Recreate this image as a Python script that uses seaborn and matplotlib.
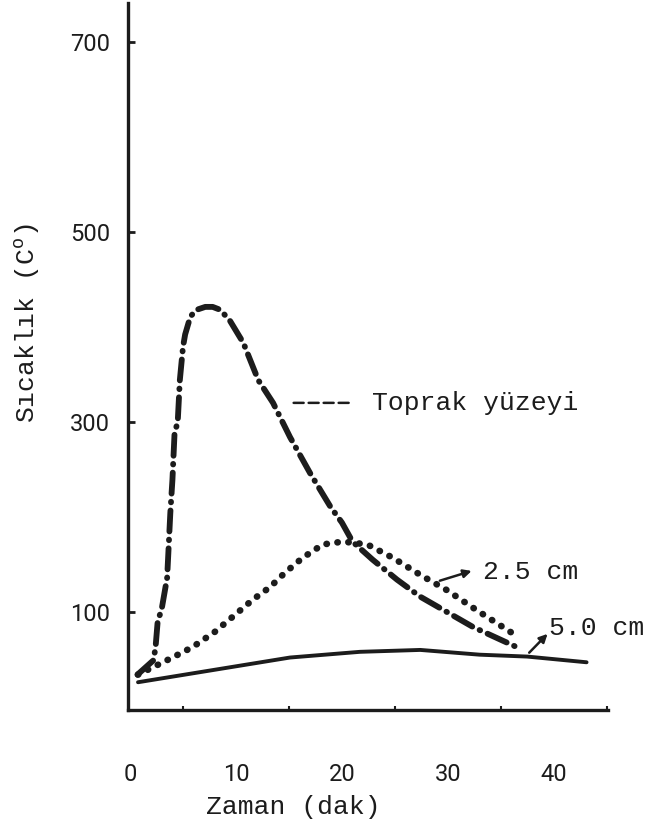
import pandas as pd
import matplotlib
matplotlib.use("Agg")
import matplotlib.pyplot as plt
import seaborn as sns

# Toprak yüzeyi (soil surface)
surface_t = [0.7, 2.2, 2.4, 2.6, 3.0, 3.5, 3.8, 4.0, 4.2, 4.5, 4.7, 5.0, 5.2, 5.7, 6.3, 7.1,
             7.8, 8.5, 9.4, 10.7, 12.1, 13.5, 15.1, 17.0, 18.9, 20.0, 21.0, 22.9, 25.2,
             27.4, 29.9, 32.4, 36.5]
surface_temp = [34, 49, 62, 89, 104, 136, 204, 239, 288, 300, 344, 379, 392, 411, 418, 421,
                421, 418, 407, 383, 344, 320, 284, 246, 211, 194, 174, 155, 134,
                116, 100, 84, 63]

# 2.5 cm depth
d25_t = [0.75, 2.2, 4.0, 5.9, 8.0, 9.7, 11.6, 13.2, 14.6, 16.3, 18.2, 20.1, 22.4, 24.8,
         27.4, 29.9, 32.7, 36.6]
d25_temp = [34, 42, 52, 63, 79, 95, 113, 126, 141, 157, 171, 174, 171, 157,
            139, 123, 102, 74]

# 5.0 cm depth
d50_t = [0.75, 15.1, 21.7, 27.4, 33.0, 37.5, 43.1]
d50_temp = [26, 52, 58, 60, 55, 53, 47]

x_ticks = [0, 10, 20, 30, 40]
y_ticks = [100, 300, 500, 700]

sns.set_theme(style="white")
plt.rcParams["mathtext.fontset"] = "custom"
plt.rcParams["mathtext.rm"] = "Liberation Mono"
plt.rcParams["mathtext.it"] = "Liberation Mono"

ink = "#1c1c1c"
mono = "Liberation Mono"

fig = plt.figure(figsize=(6.5, 8.3), dpi=100)
ax = fig.add_axes([0.197, 0.1446, 0.738, 0.852])

surface = pd.DataFrame({"t": surface_t, "temp": surface_temp})
d25 = pd.DataFrame({"t": d25_t, "temp": d25_temp})
d50 = pd.DataFrame({"t": d50_t, "temp": d50_temp})

sns.lineplot(data=surface, x="t", y="temp", ax=ax, color=ink, linewidth=4.2,
             estimator=None, sort=False, linestyle=(0, (3.6, 1.4, 0.1, 1.4)),
             dash_capstyle="round")
sns.lineplot(data=d25, x="t", y="temp", ax=ax, color=ink, linewidth=4.8,
             estimator=None, sort=False, linestyle=(0, (0.05, 1.6)),
             dash_capstyle="round")
sns.lineplot(data=d50, x="t", y="temp", ax=ax, color=ink, linewidth=2.8,
             estimator=None, sort=False, solid_capstyle="round")

ax.set_xlim(-0.19, 45.1)
ax.set_ylim(-3.2, 741)

for side in ["top", "right"]:
    ax.spines[side].set_visible(False)
for side in ["left", "bottom"]:
    ax.spines[side].set_color(ink)
    ax.spines[side].set_linewidth(2.4)

ax.set_xticks(x_ticks)
ax.set_xticks([5, 15, 25, 35, 45], minor=True)
ax.set_yticks(y_ticks)
tick_font = dict(fontsize=17, color=ink, family="Roboto")
ax.set_xticklabels([str(v) for v in x_ticks], **tick_font)
ax.set_yticklabels([str(v) for v in y_ticks], **tick_font)
ax.tick_params(axis="x", which="major", direction="in", length=5, width=2, color=ink, pad=38)
ax.tick_params(axis="x", which="minor", direction="in", length=3, width=1.5, color=ink,
               bottom=True)
ax.tick_params(axis="y", direction="in", length=5, width=2, color=ink, pad=13, left=True)

ax.set_xlabel("Zaman (dak)", family=mono, fontsize=19, color=ink)
ax.xaxis.set_label_coords(0.344, -0.12)
ax.set_ylabel(r"Sıcaklık (C$^\mathrm{o}$)", family=mono, fontsize=19, color=ink)
ax.yaxis.set_label_coords(-0.18, 0.547)

# curve labels
ax.annotate("", xy=(14.9, 320), xytext=(20.9, 320),
            arrowprops=dict(arrowstyle="-", color=ink, lw=1.8, linestyle=(0, (4, 2))))
ax.text(22.8, 320, "Toprak yüzeyi", family=mono, fontsize=19, color=ink, va="center")
ax.annotate("", xy=(32.5, 144), xytext=(29.0, 132),
            arrowprops=dict(arrowstyle="-|>", color=ink, lw=1.8, mutation_scale=12))
ax.text(33.3, 142, "2.5 cm", family=mono, fontsize=19, color=ink, va="center")
ax.annotate("", xy=(39.6, 79), xytext=(37.5, 55),
            arrowprops=dict(arrowstyle="-|>", color=ink, lw=1.8, mutation_scale=12))
ax.text(39.6, 83, "5.0 cm", family=mono, fontsize=19, color=ink, va="center")

fig.savefig("out.png", dpi=100, facecolor="white")
